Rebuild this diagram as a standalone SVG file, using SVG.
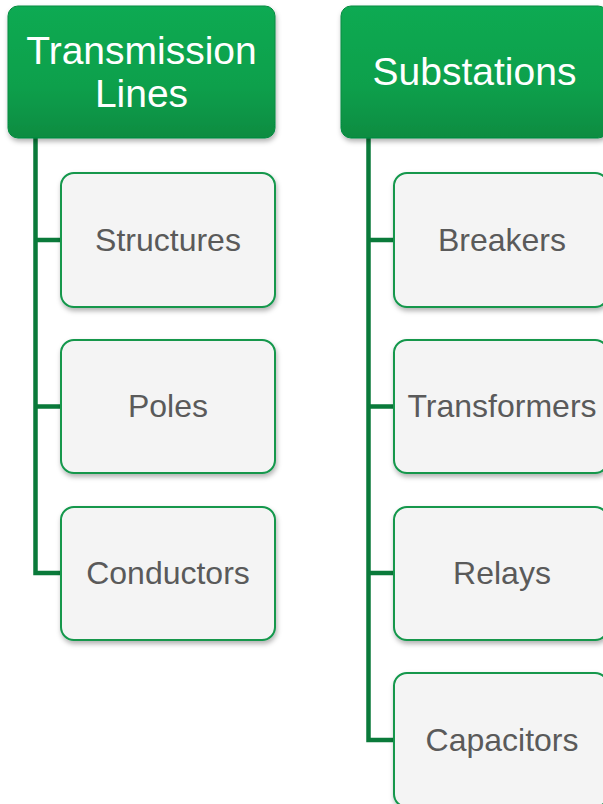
<svg xmlns="http://www.w3.org/2000/svg" width="603" height="804" viewBox="0 0 603 804">
<defs>
<linearGradient id="hg" x1="0" y1="0" x2="0" y2="1">
<stop offset="0" stop-color="#0aaa52"/>
<stop offset="0.6" stop-color="#09a04c"/>
<stop offset="1" stop-color="#078c41"/>
</linearGradient>
<filter id="sh" x="-10%" y="-10%" width="130%" height="130%">
<feDropShadow dx="1" dy="3" stdDeviation="2.5" flood-color="#000" flood-opacity="0.3"/>
</filter>
<style>
.hdr{fill:url(#hg);stroke:#078a40;stroke-width:1;filter:url(#sh)}
.hdt{font-family:"Liberation Sans",Arial,sans-serif;font-size:39px;fill:#fff;text-anchor:middle}
.box{fill:#f4f4f4;stroke:#12974b;stroke-width:2;filter:url(#sh)}
.bxt{font-family:"Liberation Sans",Arial,sans-serif;font-size:32px;fill:#5a5a5a;text-anchor:middle}
.con{fill:none;stroke:#0a7a3a;stroke-width:4.5}
</style>
</defs>
<g id="connectors">
<path class="con" d="M35.5 136 V573 H62 M35.5 240 H62 M35.5 406.5 H62"/>
<path class="con" d="M368.5 136 V740 H395 M368.5 240 H395 M368.5 406.5 H395 M368.5 573 H395"/>
</g>
<g id="transmission-lines">
<rect class="hdr" x="8" y="6" width="267" height="132" rx="10"/>
<text class="hdt" x="141.5" y="64">Transmission</text>
<text class="hdt" x="141.5" y="107">Lines</text>
</g>
<g id="substations">
<rect class="hdr" x="341" y="6" width="267" height="132" rx="10"/>
<text class="hdt" x="474.5" y="85">Substations</text>
</g>
<g id="structures">
<rect class="box" x="61" y="173" width="214" height="134" rx="13"/>
<text class="bxt" x="168" y="251">Structures</text>
</g>
<g id="poles">
<rect class="box" x="61" y="340" width="214" height="133" rx="13"/>
<text class="bxt" x="168" y="417">Poles</text>
</g>
<g id="conductors">
<rect class="box" x="61" y="507" width="214" height="133" rx="13"/>
<text class="bxt" x="168" y="584">Conductors</text>
</g>
<g id="breakers">
<rect class="box" x="394" y="173" width="214" height="134" rx="13"/>
<text class="bxt" x="502" y="251">Breakers</text>
</g>
<g id="transformers">
<rect class="box" x="394" y="340" width="214" height="133" rx="13"/>
<text class="bxt" x="502" y="417">Transformers</text>
</g>
<g id="relays">
<rect class="box" x="394" y="507" width="214" height="133" rx="13"/>
<text class="bxt" x="502" y="584">Relays</text>
</g>
<g id="capacitors">
<rect class="box" x="394" y="673" width="214" height="134" rx="13"/>
<text class="bxt" x="502" y="751">Capacitors</text>
</g>
</svg>
